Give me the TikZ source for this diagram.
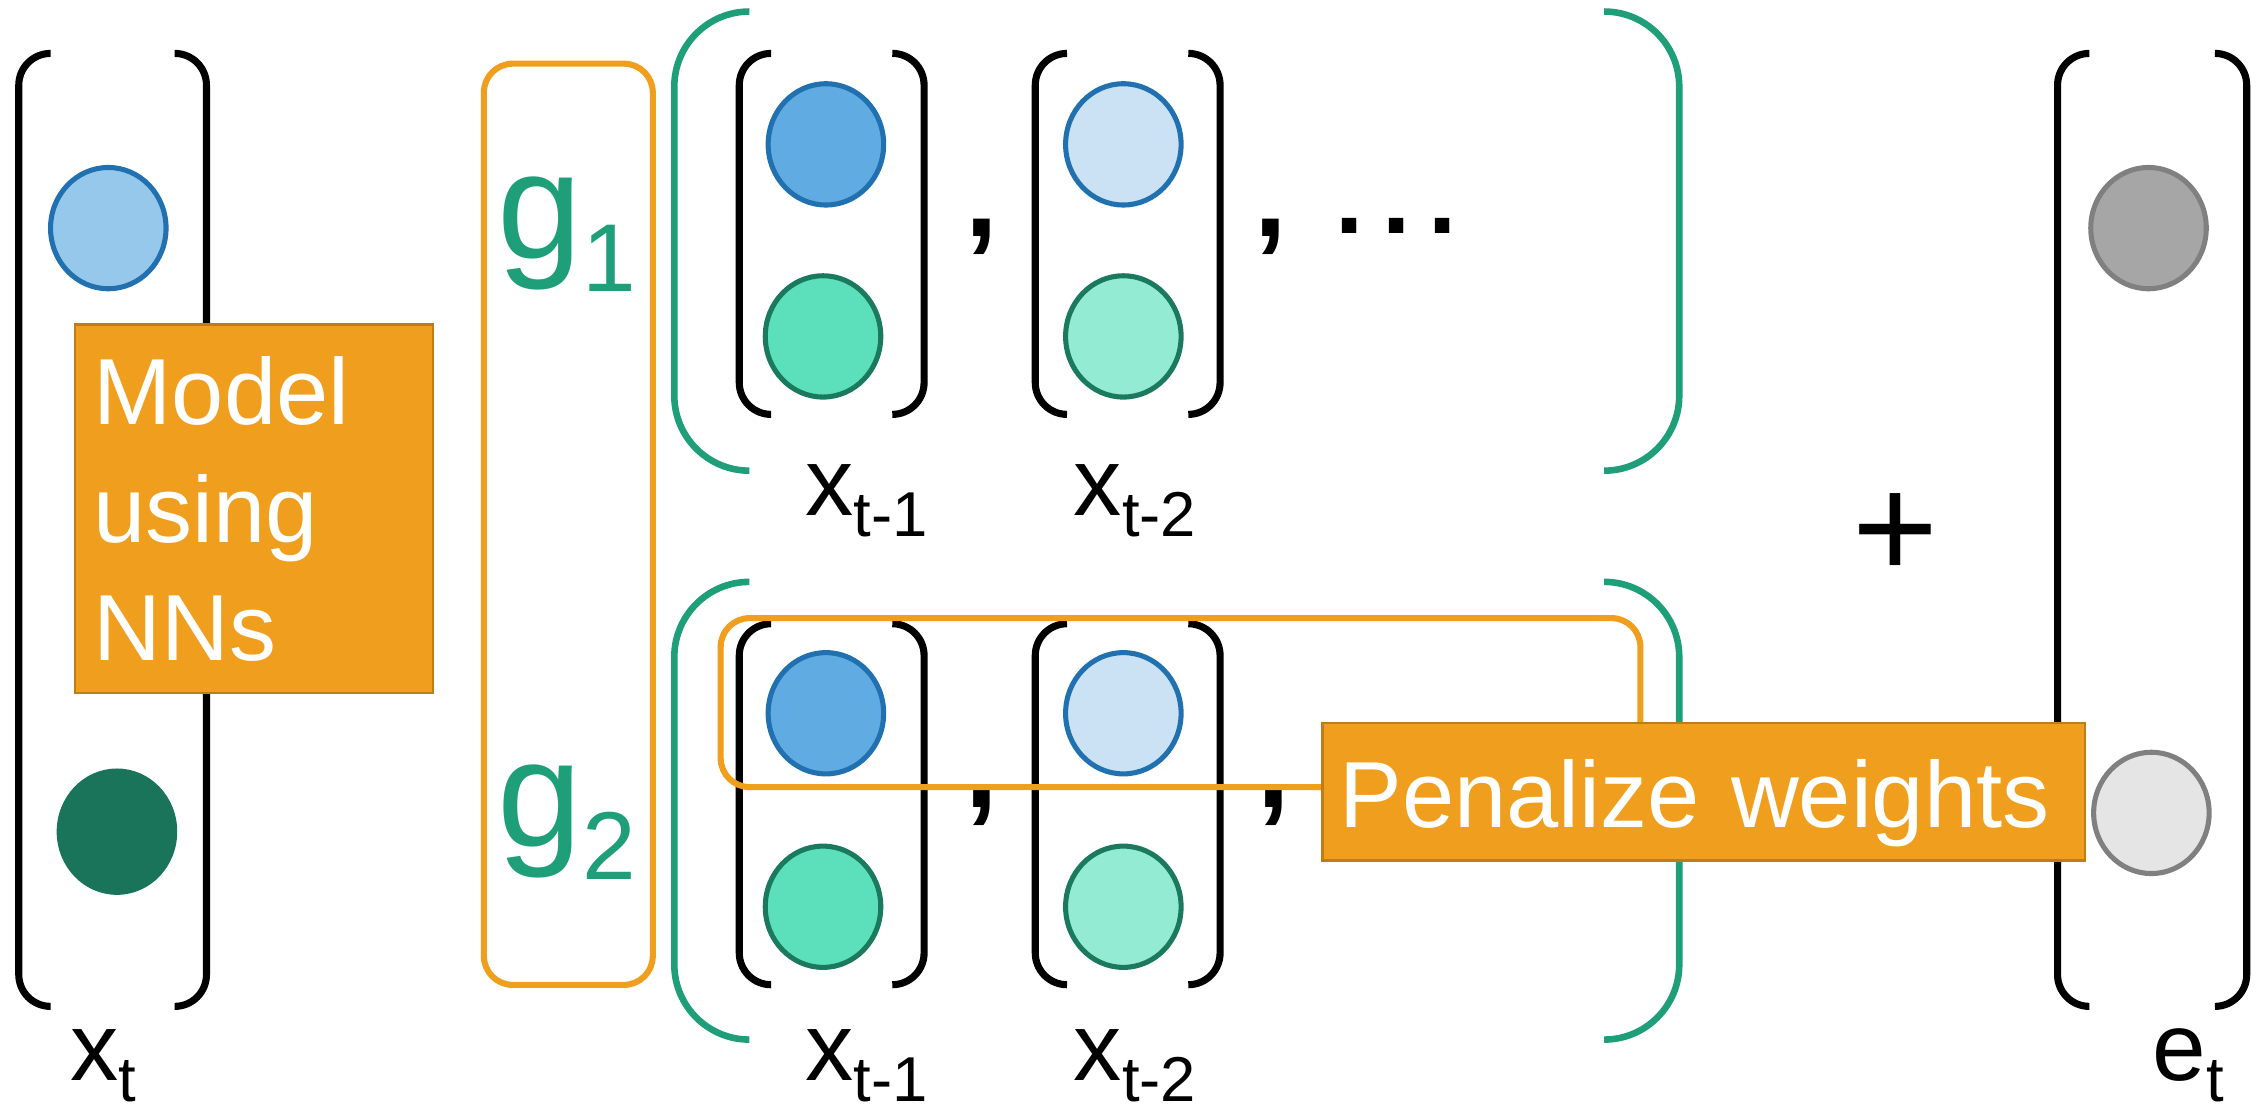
\documentclass[tikz,border=0pt]{standalone}
\usepackage{fontspec}
\setmainfont{Liberation Sans}
\usepackage{tikz}
\usetikzlibrary{shapes.geometric,positioning}

\definecolor{blueline}{RGB}{33,113,176}
\definecolor{skyblue}{RGB}{150,200,236}
\definecolor{midblue}{RGB}{96,171,225}
\definecolor{paleblue}{RGB}{202,226,244}
\definecolor{greenline}{RGB}{27,122,94}
\definecolor{midgreen}{RGB}{92,224,188}
\definecolor{palegreen}{RGB}{147,235,211}
\definecolor{deepgreen}{RGB}{25,116,90}
\definecolor{brgreen}{RGB}{31,158,122}
\definecolor{boxorange}{RGB}{240,158,29}
\definecolor{boxedge}{RGB}{190,125,25}
\definecolor{noisegray}{RGB}{166,166,166}
\definecolor{lightnoise}{RGB}{229,229,229}
\definecolor{grayline}{RGB}{128,128,128}

\tikzset{
  vecbr/.style={line width=1.4pt},
  bigbr/.style={line width=1.3pt, draw=brgreen},
  unit/.style={
    ellipse, draw, line width=1pt, inner sep=0pt,
    minimum width=0.8cm, minimum height=0.84cm
  },
  note/.style={
    fill=boxorange, draw=boxedge, line width=0.5pt,
    text=white, align=left,
    font=\fontsize{18.5}{23.3}\selectfont
  },
  group/.style={
    draw=boxorange, line width=1.2pt, rounded corners=0.2cm
  },
  sym/.style={inner sep=0pt, anchor=base west},
  punct/.style={
    inner sep=0pt, anchor=base,
    font=\fontsize{23}{23}\selectfont\bfseries
  }
}

% a pair of column brackets: [style] xl, xr, top, bottom, radius
\newcommand{\colbrackets}[6][vecbr]{%
  \draw[#1, rounded corners=#6cm] (#2+#6,#4) -- (#2,#4) -- (#2,#5) -- (#2+#6,#5);
  \draw[#1, rounded corners=#6cm] (#3-#6,#4) -- (#3,#4) -- (#3,#5) -- (#3-#6,#5);
}
\newcommand{\seqlabel}[2]{{\fontsize{19}{19}\selectfont #1}\raisebox{-4.2pt}{\fontsize{12.5}{12.5}\selectfont #2}}
\newcommand{\gname}[1]{{\fontsize{30}{30}\selectfont g}\raisebox{-6.5pt}{\fontsize{19}{19}\selectfont #1}}

\begin{document}
\begin{tikzpicture}
    \useasboundingbox (0,0) rectangle (15.68,7.68);

    % x_t and e_t
    \colbrackets{0.13}{1.43}{7.31}{0.71}{0.22}
    \colbrackets{14.25}{15.56}{7.31}{0.71}{0.22}
    \node[unit, draw=blueline, fill=skyblue] (xa) at (0.75,6.10) {};
    \node[unit, draw=deepgreen, fill=deepgreen] (xb) at (0.81,1.92) {};
    \node[unit, draw=grayline, fill=noisegray] (ea) at (14.88,6.10) {};
    \node[unit, draw=grayline, fill=lightnoise] (eb) at (14.90,2.05) {};
    \node[sym] (lxt) at (0.48,0.20) {\seqlabel{x}{t}};
    \node[sym] (let) at (14.90,0.20) {\seqlabel{e}{t}};

    % lagged inputs, first row
    \colbrackets[bigbr]{4.67}{11.63}{7.60}{4.42}{0.52}
    \colbrackets{5.12}{6.40}{7.31}{4.81}{0.22}
    \colbrackets{7.17}{8.45}{7.31}{4.81}{0.22}
    \node[unit, draw=blueline, fill=midblue] (a1) at (5.72,6.68) {};
    \node[unit, draw=greenline, fill=midgreen] (b1) at (5.70,5.35) {};
    \node[unit, draw=blueline, fill=paleblue] (a2) at (7.78,6.68) {};
    \node[unit, draw=greenline, fill=palegreen] (b2) at (7.78,5.35) {};
    \node[punct] (ca) at (6.80,6.04) {,};
    \node[punct] (cb) at (8.80,6.04) {,};
    \node[punct, font=\fontsize{20}{20}\selectfont\bfseries] (dots) at (9.67,6.06) {.\hspace{3.6pt}.\hspace{3.6pt}.};
    \node[sym] (l1) at (5.57,4.11) {\seqlabel{x}{t-1}};
    \node[sym] (l2) at (7.43,4.11) {\seqlabel{x}{t-2}};

    % lagged inputs, second row
    \colbrackets[bigbr]{4.67}{11.63}{3.65}{0.48}{0.52}
    \colbrackets{5.12}{6.40}{3.36}{0.86}{0.22}
    \colbrackets{7.17}{8.45}{3.36}{0.86}{0.22}
    \node[unit, draw=blueline, fill=midblue] (c1) at (5.72,2.74) {};
    \node[unit, draw=greenline, fill=midgreen] (d1) at (5.70,1.40) {};
    \node[unit, draw=blueline, fill=paleblue] (c2) at (7.78,2.74) {};
    \node[unit, draw=greenline, fill=palegreen] (d2) at (7.78,1.40) {};
    \node[punct] (cc) at (6.80,2.09) {,};
    \node[punct] (cd) at (8.82,2.09) {,};
    \node[sym] (l3) at (5.57,0.20) {\seqlabel{x}{t-1}};
    \node[sym] (l4) at (7.43,0.20) {\seqlabel{x}{t-2}};

    \node[font=\fontsize{29}{29}\selectfont, inner sep=0pt] (plus) at (13.13,3.97) {+};

    % g_1, g_2 and the penalized lags
    \node[group, anchor=north west, minimum width=1.17cm, minimum height=6.38cm] (gbox) at (3.33,7.26) {};
    \node[sym, text=brgreen] (g1) at (3.44,5.89) {\gname{1}};
    \node[sym, text=brgreen] (g2) at (3.44,1.82) {\gname{2}};
    \node[group, anchor=north west, minimum width=6.37cm, minimum height=1.17cm] (lagsel) at (4.97,3.42) {};

    \node[note, anchor=north west, minimum height=2.55cm, text width=2.22cm, inner xsep=0.13cm] (nn) at (0.51,5.44) {Model\\using\\NNs};
    \node[note, anchor=north west, minimum height=0.95cm, text width=5.04cm, inner xsep=0.12cm, text height=14pt, text depth=0pt] (pen) at (9.15,2.68) {Penalize weights};
\end{tikzpicture}
\end{document}
